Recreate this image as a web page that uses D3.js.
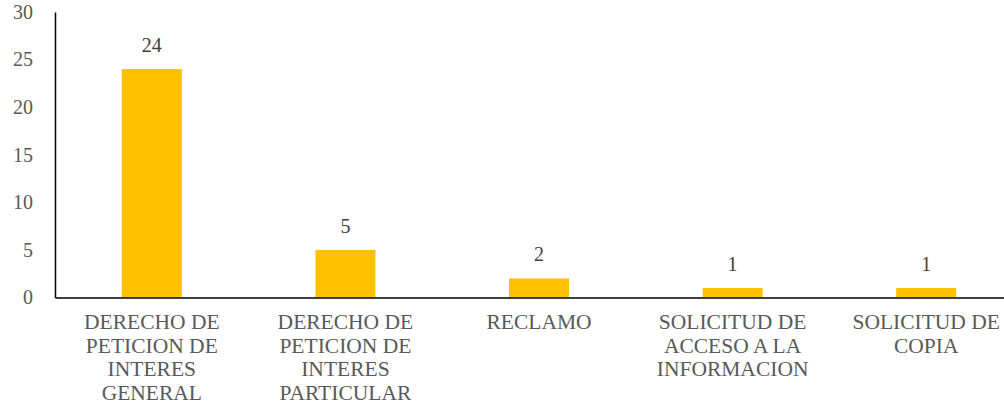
<!DOCTYPE html>
<html><head><meta charset="utf-8">
<script src="https://cdn.jsdelivr.net/npm/d3@7/dist/d3.min.js"></script>
<style>body{margin:0;background:#fff}svg{display:block}</style>
</head><body>
<svg id="c" width="1004" height="409"></svg>
<script>
const categories = [
  ["DERECHO DE","PETICION DE","INTERES","GENERAL"],
  ["DERECHO DE","PETICION DE","INTERES","PARTICULAR"],
  ["RECLAMO"],
  ["SOLICITUD DE","ACCESO A LA","INFORMACION"],
  ["SOLICITUD DE","COPIA"]
];
const values = [24, 5, 2, 1, 1];
const yTicks = [0, 5, 10, 15, 20, 25, 30];

const FONT = "font-family:'Liberation Serif'";
const svg = d3.select("#c");
const keys = categories.map((c, i) => i);
const x = d3.scaleBand().domain(keys).range([55, 1023]).paddingInner(0.69).paddingOuter(0.345);
const y = d3.scaleLinear().domain([0, 30]).range([297.5, 12]);

svg.selectAll("rect.bar").data(values).join("rect")
  .attr("x", (d, i) => x(i)).attr("width", x.bandwidth())
  .attr("y", d => y(d)).attr("height", d => y(0) - y(d))
  .attr("fill", "#FFC000");

svg.selectAll("text.val").data(values).join("text")
  .attr("style", FONT)
  .attr("x", (d, i) => x(i) + x.bandwidth() / 2).attr("y", d => y(d) - 17)
  .attr("text-anchor", "middle").attr("font-size", 20)
  .attr("fill", "#404040").text(d => d);

const yAxis = d3.axisLeft(y).tickValues(yTicks).tickSize(0).tickPadding(22);
const gy = svg.append("g").attr("transform", "translate(55,0)").call(yAxis);
gy.attr("font-family", null);
gy.select(".domain").attr("stroke", "#000").attr("stroke-width", 1.5);
gy.selectAll("text").attr("style", FONT).attr("font-size", 20).attr("fill", "#595959");

const xAxis = d3.axisBottom(x).tickSize(0).tickFormat(() => "");
const gx = svg.append("g").attr("transform", `translate(0,${y(0)})`).call(xAxis);
gx.attr("font-family", null);
gx.select(".domain").attr("stroke", "#000").attr("stroke-width", 1.5);

categories.forEach((lines, i) => {
  const t = svg.append("text").attr("style", FONT).attr("text-anchor", "middle")
    .attr("font-size", 21.5).attr("fill", "#595959");
  lines.forEach((l, j) => {
    t.append("tspan").attr("x", x(i) + x.bandwidth() / 2).attr("y", 329 + j * 23.5).text(l);
  });
});
</script>
</body></html>
